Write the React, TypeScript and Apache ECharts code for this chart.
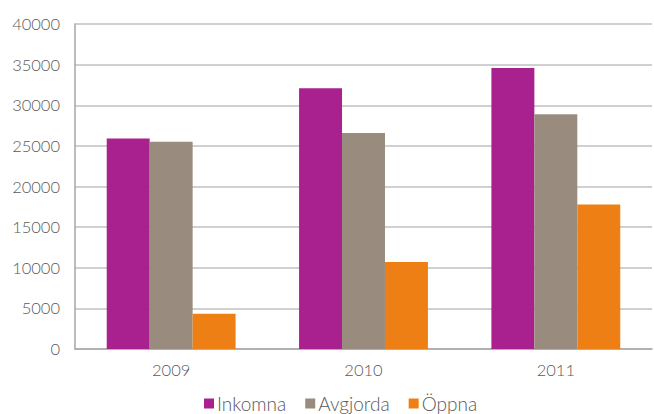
import React, { useEffect, useRef } from "react";
import * as echarts from "echarts";

const categories = ["2009", "2010", "2011"];
const inkomna = [25900, 32100, 34600];
const avgjorda = [25500, 26600, 28900];
const oppna = [4350, 10700, 17800];

export default function App() {
  const ref = useRef<HTMLDivElement>(null);
  useEffect(() => {
    const chart = echarts.init(ref.current!, null, { renderer: "svg" });
    const font = "Lato, 'Open Sans', sans-serif";
    chart.setOption({
      animation: false,
      textStyle: { fontFamily: font },
      grid: { left: 75, right: 2, top: 24, bottom: 65 },
      legend: {
        bottom: -4,
        left: 199,
        itemWidth: 10,
        itemHeight: 10,
        itemGap: 19,
        icon: "rect",
        textStyle: { fontSize: 19, color: "#595959", fontFamily: font, fontWeight: 300, padding: [0, 0, 0, -2] },
        data: ["Inkomna", "Avgjorda", "Öppna"],
      },
      xAxis: {
        type: "category",
        data: categories,
        axisLine: { lineStyle: { color: "#a6a6a6", width: 1.5 } },
        axisTick: { show: false },
        axisLabel: { fontSize: 16.5, color: "#595959", margin: 12, fontWeight: 300 },
      },
      yAxis: {
        type: "value",
        min: 0,
        max: 40000,
        interval: 5000,
        axisLine: { show: true, lineStyle: { color: "#a6a6a6", width: 1.5 } },
        axisTick: { show: false },
        splitLine: { lineStyle: { color: "#c0c0c0", width: 1.5 } },
        axisLabel: { fontSize: 16.5, color: "#595959", margin: 15, fontWeight: 300, formatter: (v: number) => String(v) },
      },
      series: [
        { name: "Inkomna", type: "bar", data: inkomna, itemStyle: { color: "#a8218e" }, barGap: "0%", barCategoryGap: "33%" },
        { name: "Avgjorda", type: "bar", data: avgjorda, itemStyle: { color: "#998b7d" } },
        { name: "Öppna", type: "bar", data: oppna, itemStyle: { color: "#ee7f14" } },
      ],
    });
    return () => chart.dispose();
  }, []);
  return <div ref={ref} style={{ width: 654, height: 414, position: "absolute", left: 0, top: 0 }} />;
}
